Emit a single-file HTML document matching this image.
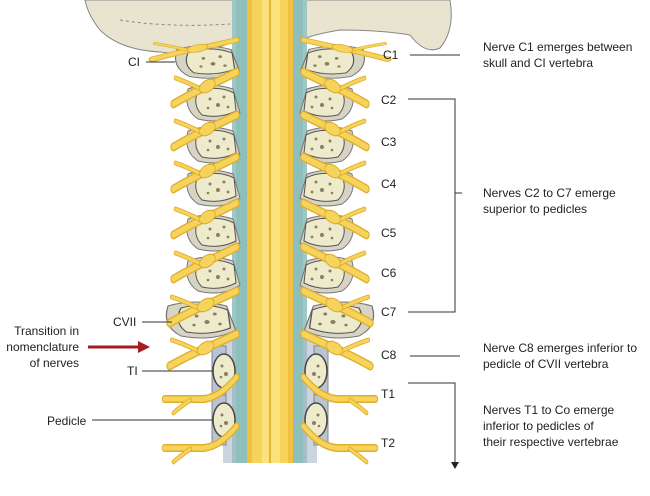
<!DOCTYPE html>
<html><head><style>
body{margin:0;background:#fff}
svg{display:block}
text{font-family:"Liberation Sans",sans-serif;font-size:12px;fill:#222}
</style></head><body>
<svg width="650" height="496" viewBox="0 0 650 496" xmlns="http://www.w3.org/2000/svg">
<defs>
<g id="vert">
<path d="M-40 -14 Q-20 -22 5 -14 L12 10 Q-5 22 -30 16 Q-45 6 -40 -14Z" fill="#d8d4c4" stroke="#777" stroke-width="1"/>
<path d="M-30 -12 Q-10 -18 6 -10 L8 8 Q-8 16 -26 12 Q-36 2 -30 -12Z" fill="#eeeacc" stroke="#555" stroke-width="1"/>
<circle cx="-18" cy="-4" r="1.5" fill="#8a7f60"/><circle cx="-10" cy="2" r="2" fill="#8a7f60"/><circle cx="-4" cy="-6" r="1.5" fill="#8a7f60"/><circle cx="-20" cy="5" r="1.3" fill="#8a7f60"/><circle cx="0" cy="4" r="1.4" fill="#8a7f60"/>
</g>
<g id="nerve">
<path d="M-2 0 Q-25 8 -45 14 Q-70 22 -95 32" stroke="#e0ae2c" stroke-width="9" fill="none" stroke-linecap="round"/>
<path d="M-2 0 Q-25 8 -45 14 Q-70 22 -95 32" stroke="#f6d35a" stroke-width="6" fill="none" stroke-linecap="round"/>
<path d="M-55 17 Q-75 10 -92 6" stroke="#e0ae2c" stroke-width="5" fill="none" stroke-linecap="round"/>
<path d="M-55 17 Q-75 10 -92 6" stroke="#f6d35a" stroke-width="3" fill="none" stroke-linecap="round"/>
<ellipse cx="-45" cy="14" rx="12" ry="6" transform="rotate(-18 -45 14)" fill="#f6d35a" stroke="#d9a52a"/>
</g>
<g id="tnerve">
<path d="M-2 -10 Q-30 14 -60 12 L-108 12" stroke="#e0ae2c" stroke-width="8" fill="none" stroke-linecap="round"/>
<path d="M-2 -10 Q-30 14 -60 12 L-108 12" stroke="#f6d35a" stroke-width="5" fill="none" stroke-linecap="round"/>
<path d="M-70 13 Q-85 20 -95 26" stroke="#e0ae2c" stroke-width="5" fill="none" stroke-linecap="round"/>
<path d="M-70 13 Q-85 20 -95 26" stroke="#f6d35a" stroke-width="3" fill="none" stroke-linecap="round"/>
</g>
<g id="tvert">
<rect x="-12" y="-25" width="14" height="50" fill="#b8c4d4" stroke="#888"/>
<ellipse cx="-0" cy="0" rx="11" ry="17" fill="#eeeacc" stroke="#444" stroke-width="1.5"/>
<circle cx="-2" cy="-5" r="1.5" fill="#8a7f60"/><circle cx="2" cy="3" r="2" fill="#8a7f60"/><circle cx="-3" cy="6" r="1.3" fill="#8a7f60"/>
</g>
<g id="half">
<use href="#vert" transform="translate(-45,62) scale(1.2,0.9)"/>
<use href="#vert" transform="translate(-42,103)"/>
<use href="#vert" transform="translate(-42,145)"/>
<use href="#vert" transform="translate(-42,188)"/>
<use href="#vert" transform="translate(-42,233)"/>
<use href="#vert" transform="translate(-42,275)"/>
<use href="#vert" transform="translate(-50,320) scale(1.3,1)"/>
<use href="#tvert" transform="translate(-46,371)"/>
<use href="#tvert" transform="translate(-46,420)"/>
<use href="#nerve" transform="translate(-32,40) scale(0.9,0.6)"/>
<use href="#nerve" transform="translate(-32,72) scale(0.68,1)"/>
<use href="#nerve" transform="translate(-32,115) scale(0.68,1)"/>
<use href="#nerve" transform="translate(-32,157) scale(0.68,1)"/>
<use href="#nerve" transform="translate(-32,203) scale(0.68,1)"/>
<use href="#nerve" transform="translate(-32,247) scale(0.68,1)"/>
<use href="#nerve" transform="translate(-32,291) scale(0.72,1)"/>
<use href="#nerve" transform="translate(-32,334) scale(0.72,1)"/>
<use href="#tnerve" transform="translate(-32,387) scale(0.68,1)"/>
<use href="#tnerve" transform="translate(-32,436) scale(0.68,1)"/>
</g>
</defs>
<!-- skull -->
<path d="M85 0 L240 0 L236 40 Q200 58 160 52 Q120 50 100 30 Q88 15 85 0Z" fill="#e8e4d0" stroke="#888"/>
<path d="M120 20 Q170 28 230 24" stroke="#888" fill="none" stroke-dasharray="3 3"/>
<path d="M300 0 L450 0 Q455 30 440 48 Q425 55 410 35 Q380 30 340 30 Q310 35 302 40Z" fill="#e8e4d0" stroke="#888"/>
<!-- dura -->
<rect x="232" y="0" width="75" height="463" fill="#9ec8c4"/>
<rect x="223" y="340" width="94" height="123" fill="#aab8cc" opacity="0.6"/>
<rect x="236" y="0" width="67" height="463" fill="#8ebfba"/>
<!-- cord -->
<rect x="247" y="0" width="46" height="463" fill="#f0c040"/>
<rect x="252" y="0" width="36" height="463" fill="#f6d35a"/>
<rect x="262" y="0" width="18" height="463" fill="#fbe27c"/>
<line x1="270" y1="0" x2="270" y2="463" stroke="#d9a52a" stroke-width="1.5"/>
<g transform="translate(270,0)"><use href="#half"/></g>
<g transform="translate(270,0) scale(-1,1)"><use href="#half"/></g>
<!-- labels right -->
<g stroke="#333" stroke-width="1" fill="none">
<line x1="410" y1="55" x2="460" y2="55"/>
<polyline points="408,99 455,99 455,312 408,312"/>
<line x1="455" y1="193" x2="462" y2="193"/>
<line x1="410" y1="356" x2="460" y2="356"/>
<polyline points="408,383 455,383 455,462"/>
<line x1="146" y1="62" x2="175" y2="62"/>
<line x1="142" y1="322" x2="172" y2="322"/>
<line x1="142" y1="371" x2="213" y2="371"/>
<line x1="92" y1="420" x2="213" y2="420"/>
</g>
<polygon points="451,462 459,462 455,469" fill="#222"/>
<text x="383" y="59">C1</text><text x="381" y="104">C2</text><text x="381" y="146">C3</text>
<text x="381" y="188">C4</text><text x="381" y="237">C5</text><text x="381" y="277">C6</text>
<text x="381" y="316">C7</text><text x="381" y="359">C8</text><text x="381" y="398">T1</text><text x="381" y="447">T2</text>
<text x="483" y="51">Nerve C1 emerges between</text><text x="483" y="67">skull and CI vertebra</text>
<text x="483" y="197">Nerves C2 to C7 emerge</text><text x="483" y="213">superior to pedicles</text>
<text x="483" y="352">Nerve C8 emerges inferior to</text><text x="483" y="368">pedicle of CVII vertebra</text>
<text x="483" y="414">Nerves T1 to Co emerge</text><text x="483" y="430">inferior to pedicles of</text><text x="483" y="446">their respective vertebrae</text>
<text x="128" y="66">CI</text><text x="113" y="326">CVII</text><text x="127" y="375">TI</text><text x="47" y="425">Pedicle</text>
<text x="79" y="335" text-anchor="end">Transition in</text><text x="79" y="351" text-anchor="end">nomenclature</text><text x="79" y="367" text-anchor="end">of nerves</text>
<line x1="88" y1="347" x2="140" y2="347" stroke="#a51c1c" stroke-width="3"/>
<polygon points="138,341 150,347 138,353" fill="#a51c1c"/>
</svg>
</body></html>
